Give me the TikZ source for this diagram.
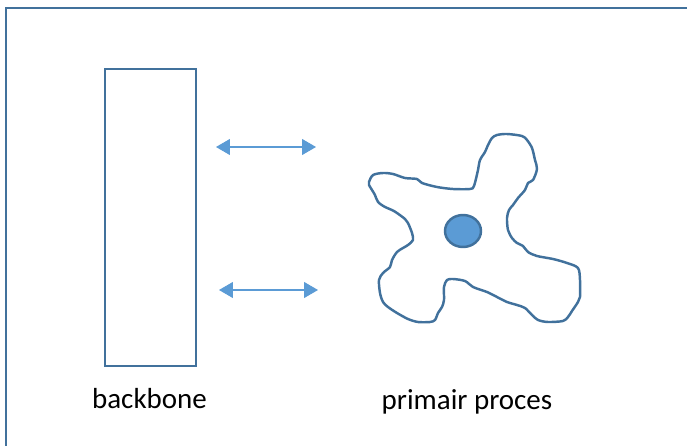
\documentclass[tikz,border=0pt]{standalone}
\usepackage{fontspec}
\setmainfont{Carlito}
\usetikzlibrary{arrows.meta,shapes.geometric}
\definecolor{edgeblue}{HTML}{41719C}
\definecolor{fillblue}{HTML}{5B9BD5}
\tikzset{
  outline/.style={draw=edgeblue,line width=1.4pt},
  twoway/.style={draw=fillblue,line width=0.6pt,
    {Triangle[length=0.28cm,width=0.32cm]}-{Triangle[length=0.28cm,width=0.32cm]}},
  caption/.style={anchor=base,font=\fontsize{16.5}{20}\selectfont}
}
\begin{document}
\begin{tikzpicture}[x=0.02cm,y=-0.02cm]
                \clip (0,0) rectangle (687,446);
                %% frame
                \draw[outline] (6,460) -- (6,8) -- (700,8);
                %% backbone
                \node[outline,rectangle,minimum width=1.82cm,minimum height=5.94cm,inner sep=0pt] (backbone) at (150.5,217.5) {};
                \node[caption] (backbonelabel) at (149.5,408) {backbone};
                %% links
                \coordinate (ua) at (216,147);
                \coordinate (ub) at (316,147);
                \coordinate (la) at (219,290);
                \coordinate (lb) at (318,290);
                \draw[twoway] (ua) -- (ub);
                \draw[twoway] (la) -- (lb);
                %% primary process
                \draw[outline,line join=round] plot[smooth cycle,tension=0.5] coordinates {
                  (369,182) (373,175) (383,173) (393,174) (405,178) (417,179) (422,183)
                  (437,187) (453,189) (470,189) (474,186) (478,170) (480,160) (485,152)
                  (488,145) (492,138) (497,135) (507,134) (522,136) (527,140) (532,148)
                  (535,160) (537,169) (533,180) (528,183) (525,190) (518,198) (513,205)
                  (509,210) (507,218) (508,230) (512,238) (517,243) (523,246) (528,252)
                  (537,256) (553,259) (567,263) (578,268) (580,280) (580,297) (578,302)
                  (572,311) (568,317) (563,321) (548,322) (538,320) (532,315) (525,308)
                  (517,305) (507,302) (497,297) (487,292) (473,287) (465,281) (453,279)
                  (447,280) (444,287) (444,300) (442,307) (438,313) (435,320) (430,322)
                  (418,322) (408,319) (397,313) (388,307) (383,302) (380,293) (379,280)
                  (383,273) (390,267) (392,260) (397,252) (403,248) (408,245) (413,240)
                  (412,233) (408,223) (405,219) (397,213) (392,210) (385,207) (378,202)
                  (375,195) (372,190) (369,185)};
                \node[outline,fill=fillblue,ellipse,minimum width=0.72cm,minimum height=0.64cm,inner sep=0pt] (nucleus) at (463,231) {};
                \node[caption] (processlabel) at (467,409) {primair proces};
\end{tikzpicture}
\end{document}
